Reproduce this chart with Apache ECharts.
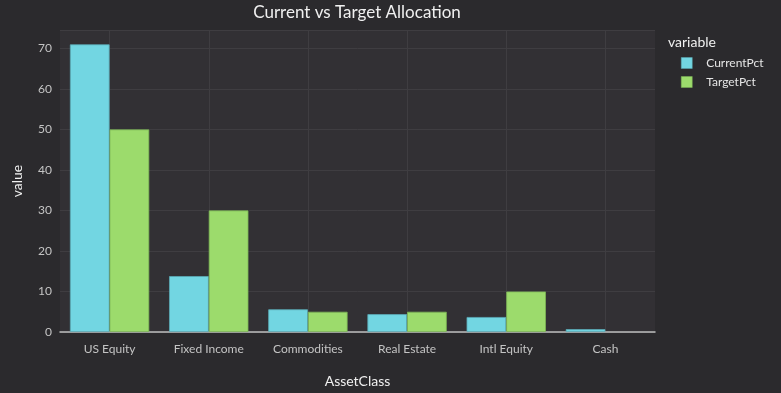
<!DOCTYPE html>
<html>
<head>
<meta charset="utf-8">
<script src="https://cdn.jsdelivr.net/npm/echarts@6/dist/echarts.min.js"></script>
<style>
html,body{margin:0;padding:0;background:#2b2a2d;}
#main{width:781px;height:393px;}
</style>
</head>
<body>
<div id="main"></div>
<script>
const categories = ['US Equity', 'Fixed Income', 'Commodities', 'Real Estate', 'Intl Equity', 'Cash'];
const currentPct = [71, 13.8, 5.6, 4.4, 3.7, 0.7];
const targetPct = [50, 30, 5, 5, 10, 0];
const seriesNames = ['CurrentPct', 'TargetPct'];
const yTicks = [0, 10, 20, 30, 40, 50, 60, 70];

// helper axis: half-band positions so vertical grid lines sit at category centres
const halfSteps = [];
for (let i = 0; i <= categories.length * 2; i++) halfSteps.push(String(i));

// zero-height bars get no outline (as in the reference)
const toItems = arr => arr.map(v => (v === 0 ? {value: v, itemStyle: {borderWidth: 0, opacity: 0}} : v));

const FONT = 'Lato';
const chart = echarts.init(document.getElementById('main'), null, {renderer: 'canvas'});
const option = {
  backgroundColor: '#2b2a2d',
  animation: false,
  title: [{
    text: 'Current vs Target Allocation',
    left: 357, top: 4, textAlign: 'center', padding: 0,
    textStyle: {color: '#f0f0f0', fontSize: 17, fontWeight: 'normal', fontFamily: FONT}
  }, {
    text: 'variable',
    left: 668, top: 35, padding: 0,
    textStyle: {color: '#f0f0f0', fontSize: 14, fontWeight: 'normal', fontFamily: FONT}
  }],
  legend: {
    orient: 'vertical', left: 681, top: 57, padding: 0,
    itemWidth: 11, itemHeight: 11, itemGap: 7,
    icon: 'rect',
    data: seriesNames,
    itemStyle: {borderWidth: 0.5},
    textStyle: {color: '#e6e6e6', fontSize: 12, fontFamily: FONT, padding: [0, 0, 0, 9]}
  },
  grid: {left: 60, right: 126, top: 30, bottom: 61, show: true, backgroundColor: '#323034', borderWidth: 0, containLabel: false},
  xAxis: [{
    type: 'category', data: categories,
    name: 'AssetClass', nameLocation: 'middle', nameGap: 42,
    nameTextStyle: {color: '#f0f0f0', fontSize: 14, fontFamily: FONT},
    axisLine: {show: true, lineStyle: {color: '#bdbdbd', width: 1.5}},
    axisTick: {show: false},
    axisLabel: {color: '#c4c4c4', fontSize: 12, fontFamily: FONT, margin: 11},
    splitLine: {show: false}
  }, {
    type: 'category', data: halfSteps, boundaryGap: false, position: 'bottom',
    axisLine: {show: false}, axisTick: {show: false}, axisLabel: {show: false},
    splitLine: {show: true, interval: (i) => i % 2 === 1, lineStyle: {color: '#3f3d41', width: 1}}
  }],
  yAxis: {
    type: 'value', min: 0, max: 74.55, interval: 10,
    name: 'value', nameLocation: 'middle', nameGap: 36, nameRotate: 90,
    nameTextStyle: {color: '#f0f0f0', fontSize: 14, fontFamily: FONT},
    axisLine: {show: false}, axisTick: {show: false},
    axisLabel: {color: '#c4c4c4', fontSize: 12, fontFamily: FONT, margin: 8, showMaxLabel: false,
      formatter: v => (yTicks.indexOf(v) >= 0 ? String(v) : '')},
    splitLine: {show: true, lineStyle: {color: '#3f3d41', width: 1}}
  },
  series: [{
    name: seriesNames[0], type: 'bar', data: toItems(currentPct), xAxisIndex: 0,
    barGap: '0%', barCategoryGap: '20%',
    itemStyle: {color: '#72d6e2', borderColor: '#5aaab5', borderWidth: 0.8}
  }, {
    name: seriesNames[1], type: 'bar', data: toItems(targetPct), xAxisIndex: 0,
    barGap: '0%', barCategoryGap: '20%',
    itemStyle: {color: '#9cdb6c', borderColor: '#7cb556', borderWidth: 0.8}
  }]
};
chart.setOption(option);
</script>
</body>
</html>
